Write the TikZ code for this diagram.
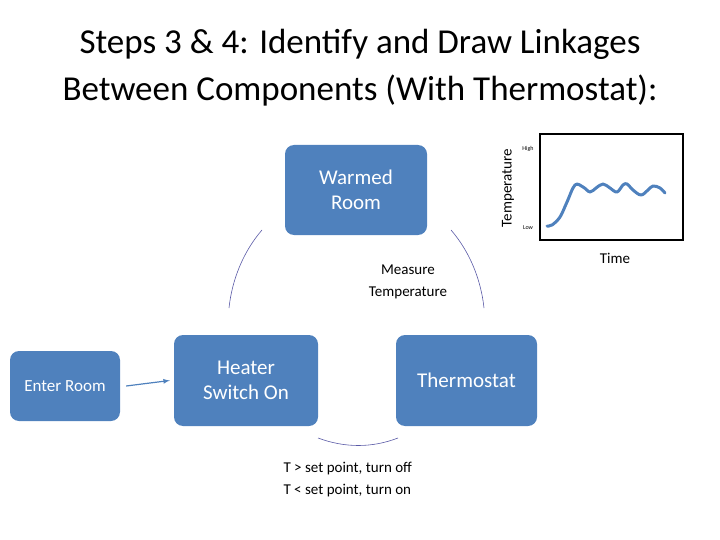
\documentclass[tikz,border=0pt]{standalone}
\usepackage{fontspec}
\setmainfont{Carlito}
\begin{document}
\begin{tikzpicture}[x=1pt,y=-1pt,
  box/.style={draw=none,fill=blue!35!black!25!cyan!0,rounded corners=9pt,text=white,align=center,font=\fontsize{21}{25}\selectfont},
  arc/.style={draw=gray!70!blue,line width=0.6pt}]
\definecolor{bx}{RGB}{79,129,189}
\useasboundingbox (0,0) rectangle (720,540);
\node[align=center,font=\fontsize{35}{47}\selectfont] (title) at (360,68) {Steps 3 \& 4: Identify and Draw Linkages\\Between Components (With Thermostat):};
\tikzset{box/.append style={fill=bx}}
\node[box,minimum width=142,minimum height=90] (warm) at (356,190) {Warmed\\Room};
\node[box,minimum width=110,minimum height=70,font=\fontsize{17}{20}\selectfont] (enter) at (65,386) {Enter Room};
\node[box,minimum width=144,minimum height=91] (heat) at (246,380.5) {Heater\\Switch On};
\node[box,minimum width=141,minimum height=91] (therm) at (466.5,380.5) {Thermostat};
\draw[bx,line width=1.2pt,-latex] (enter.east)++(6,0) coordinate (a1) -- ([xshift=-4]heat.west) coordinate (a2);
\coordinate (l1) at (262,230); \coordinate (l2) at (229,308);
\coordinate (r1) at (451,230); \coordinate (r2) at (484,308);
\coordinate (b1) at (318,438); \coordinate (b2) at (398,438);
\draw[arc] (l1) .. controls (243,252) and (232,280) .. (l2);
\draw[arc] (r1) .. controls (470,252) and (481,280) .. (r2);
\draw[arc] (b1) .. controls (345,448) and (372,448) .. (b2);
\node[align=center,font=\fontsize{15}{22}\selectfont] (meas) at (408,282) {Measure\\Temperature};
\node[align=left,font=\fontsize{15}{22}\selectfont,anchor=west] (rule) at (280,480) {T > set point, turn off\\T < set point, turn on};
% graph
\node[draw,line width=2pt,minimum width=143,minimum height=106,anchor=north west] (gbox) at (539,133) {};
\node[rotate=90,font=\fontsize{15}{18}\selectfont] (tlab) at (508,188) {Temperature};
\node[font=\fontsize{6}{7}\selectfont] (hi) at (528,149) {High};
\node[font=\fontsize{6}{7}\selectfont] (lo) at (528,228) {Low};
\node[font=\fontsize{15}{18}\selectfont] (time) at (615,258) {Time};
\draw[bx,line width=3pt,line cap=round,line join=round] plot[smooth,tension=0.6] coordinates {(547,226) (552,225) (560,217) (567,202) (575,185) (583,187) (590,192) (596,188) (603,184) (610,188) (617,192) (623,185) (627,184) (633,190) (641,195) (648,190) (653,186) (660,188) (665,193)};
\end{tikzpicture}
\end{document}
